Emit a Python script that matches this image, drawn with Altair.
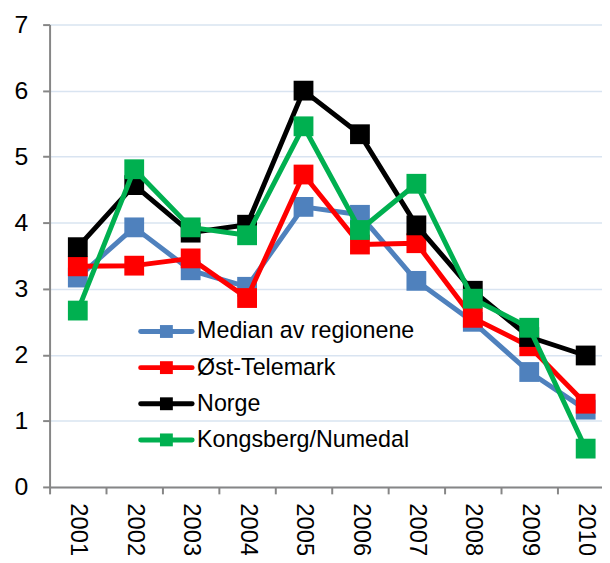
import altair as alt
import pandas as pd

years = [2001, 2002, 2003, 2004, 2005, 2006, 2007, 2008, 2009, 2010]
series = ["Median av regionene", "Øst-Telemark", "Norge", "Kongsberg/Numedal"]
colors = ["#4F81BD", "#FF0000", "#000000", "#00B050"]

median_vals = [3.17, 3.93, 3.28, 3.03, 4.24, 4.12, 3.12, 2.50, 1.74, 1.17]
ost_vals = [3.34, 3.35, 3.46, 2.86, 4.73, 3.67, 3.69, 2.56, 2.13, 1.26]
norge_vals = [3.63, 4.57, 3.85, 3.97, 6.00, 5.34, 3.96, 2.97, 2.27, 1.99]
kongs_vals = [2.67, 4.81, 3.93, 3.81, 5.46, 3.89, 4.59, 2.85, 2.41, 0.58]

values = [median_vals, ost_vals, norge_vals, kongs_vals]

rows = []
for s, vals in zip(series, values):
    for y, v in zip(years, vals):
        rows.append({"year": y, "value": v, "series": s})
df = pd.DataFrame(rows)

legend_df = pd.DataFrame({"series": series, "i": list(range(len(series)))})

FONT = "Liberation Sans"
AXIS_GRAY = "#868686"

x_enc = alt.X(
    "year:O",
    scale=alt.Scale(type="band", range=[0, 570], paddingInner=0, paddingOuter=0),
    axis=alt.Axis(
        title=None, labelAngle=90, tickBand="extent", grid=False,
        labelFontSize=24, labelPadding=9, labelFont=FONT, labelColor="black",
    ),
)
y_enc = alt.Y(
    "value:Q",
    scale=alt.Scale(domain=[0, 7], nice=False, zero=True),
    axis=alt.Axis(
        title=None, values=list(range(8)), grid=True,
        labelFontSize=25, labelPadding=15, labelFont=FONT, labelColor="black",
    ),
)
color_scale = alt.Scale(domain=series, range=colors)

base = alt.Chart(df)
layers = []
for s in series:
    sub = base.transform_filter(alt.datum.series == s)
    layers.append(
        sub.mark_line(strokeWidth=5, strokeJoin="round", strokeCap="round").encode(
            x=x_enc, y=y_enc,
            color=alt.Color("series:N", scale=color_scale, legend=None),
        )
    )
    layers.append(
        sub.mark_point(shape="square", filled=True, size=400, opacity=1, strokeWidth=0).encode(
            x=x_enc, y=y_enc,
            color=alt.Color("series:N", scale=color_scale, legend=None),
        )
    )

# manual legend (inside the plot area)
leg = alt.Chart(legend_df).transform_calculate(ly="310 + datum.i * 36.5")
leg_line = leg.mark_rule(strokeWidth=5, strokeCap="round").encode(
    x=alt.value(92), x2=alt.value(144),
    y=alt.Y("ly:Q", scale=None),
    color=alt.Color("series:N", scale=color_scale, legend=None),
)
leg_sq = leg.mark_point(shape="square", filled=True, size=169, opacity=1, strokeWidth=0).encode(
    x=alt.value(118),
    y=alt.Y("ly:Q", scale=None),
    color=alt.Color("series:N", scale=color_scale, legend=None),
)
leg_txt = leg.mark_text(align="left", baseline="middle", fontSize=23.5, font=FONT, color="black").encode(
    x=alt.value(149),
    y=alt.Y("ly:Q", scale=None),
    text="series:N",
)
layers += [leg_line, leg_sq, leg_txt]

chart = alt.layer(*layers).properties(
    width=558, height=467,
    autosize=alt.AutoSizeParams(type="none"),
    padding={"left": 42, "top": 14, "right": 0, "bottom": 66},
).configure_view(stroke=None).configure_axis(
    labelFont=FONT, labelColor="black",
    tickSize=7, tickColor=AXIS_GRAY, tickWidth=2,
    domainColor=AXIS_GRAY, domainWidth=2,
    gridColor="#D9E4F1", gridWidth=1.5,
)

chart.save("out.html", embed_options={"renderer": "svg", "actions": False})
